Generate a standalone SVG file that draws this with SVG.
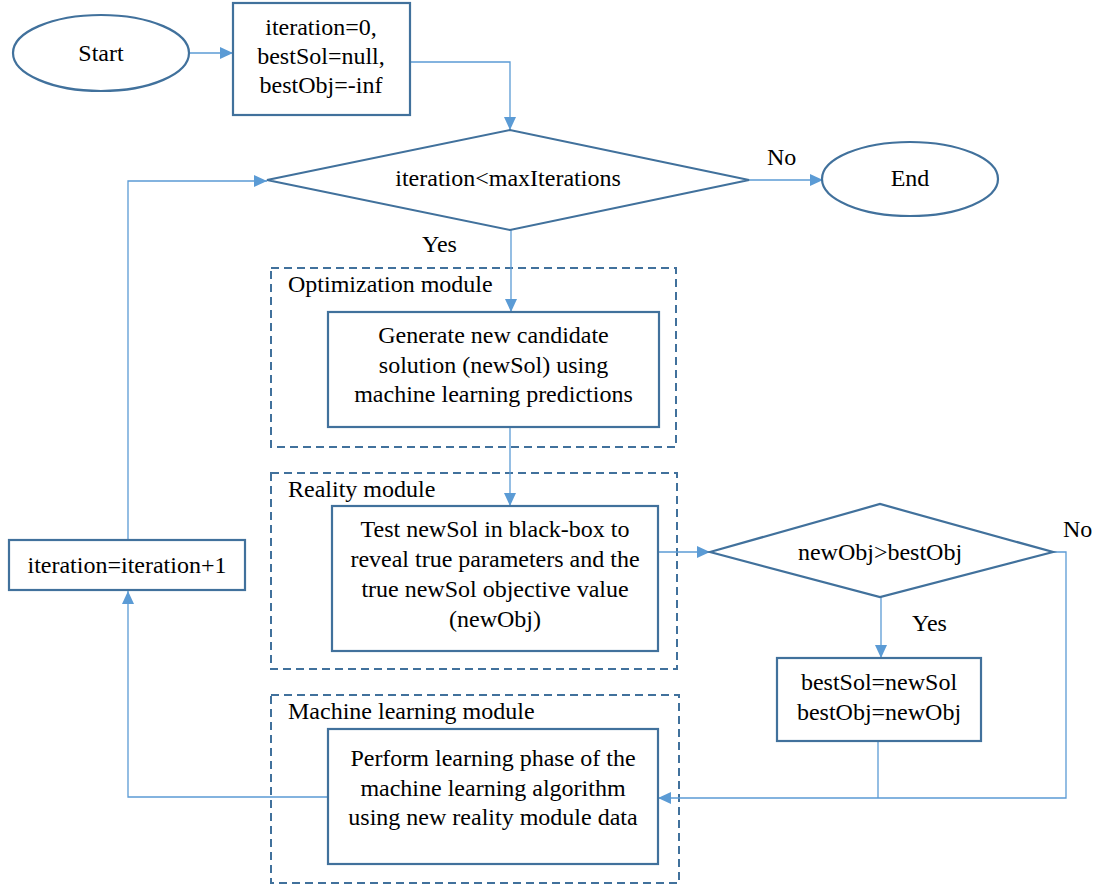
<svg xmlns="http://www.w3.org/2000/svg" width="1097" height="888" viewBox="0 0 1097 888">
<defs>
<style>
.node{fill:#fff;stroke:#41719C;stroke-width:2.2}
.mod{fill:none;stroke:#41719C;stroke-width:2;stroke-dasharray:8,5}
.conn{fill:none;stroke:#5B9BD5;stroke-width:1.3}
text{font-family:"Liberation Serif","Times New Roman",serif;font-size:24px;fill:#000}
.c{text-anchor:middle}
</style>
<marker id="arr" markerUnits="userSpaceOnUse" markerWidth="14" markerHeight="12" refX="13" refY="6" orient="auto">
<path d="M0,0 L13,6 L0,12 z" fill="#5B9BD5"/>
</marker>
</defs>
<rect width="1097" height="888" fill="#fff"/>

<g id="modules">
<g id="opt-module"><rect class="mod" x="271" y="268" width="405" height="179"/><text x="288" y="292">Optimization module</text></g>
<g id="reality-module"><rect class="mod" x="271" y="473" width="406" height="196"/><text x="288" y="497">Reality module</text></g>
<g id="ml-module"><rect class="mod" x="271" y="695" width="408" height="188"/><text x="288" y="719">Machine learning module</text></g>
</g>

<g id="connectors">
<path class="conn" d="M189,53 H233" marker-end="url(#arr)"/>
<path class="conn" d="M410,62 H510 V130" marker-end="url(#arr)"/>
<path class="conn" d="M749,180 H823" marker-end="url(#arr)"/>
<path class="conn" d="M511,230 V312" marker-end="url(#arr)"/>
<path class="conn" d="M510,427 V506" marker-end="url(#arr)"/>
<path class="conn" d="M658,552 H710" marker-end="url(#arr)"/>
<path class="conn" d="M881,597 V658" marker-end="url(#arr)"/>
<path class="conn" d="M1053,552 H1066 V798 H658" marker-end="url(#arr)"/>
<path class="conn" d="M878,741 V798"/>
<path class="conn" d="M328,797 H128 V591" marker-end="url(#arr)"/>
<path class="conn" d="M128,540 V181 H267" marker-end="url(#arr)"/>
</g>

<g id="start"><ellipse class="node" cx="101" cy="53" rx="88" ry="38"/><text class="c" x="101" y="61">Start</text></g>

<g id="init"><rect class="node" x="233" y="3" width="177" height="112"/>
<text class="c" x="321" y="35">iteration=0,</text>
<text class="c" x="321" y="64">bestSol=null,</text>
<text class="c" x="321" y="93">bestObj=-inf</text></g>

<g id="check-iter"><polygon class="node" points="267,180 510,130 749,180 510,230"/>
<text class="c" x="508" y="186">iteration&lt;maxIterations</text>
<text x="767" y="165">No</text>
<text x="422" y="252">Yes</text></g>

<g id="end"><ellipse class="node" cx="910" cy="179" rx="88" ry="37"/><text class="c" x="910" y="186">End</text></g>

<g id="generate"><rect class="node" x="328" y="312" width="331" height="115"/>
<text class="c" x="493.5" y="343">Generate new candidate</text>
<text class="c" x="493.5" y="373">solution (newSol) using</text>
<text class="c" x="493.5" y="402">machine learning predictions</text></g>

<g id="test"><rect class="node" x="332" y="506" width="326" height="145"/>
<text class="c" x="495" y="537">Test newSol in black-box to</text>
<text class="c" x="495" y="567">reveal true parameters and the</text>
<text class="c" x="495" y="597">true newSol objective value</text>
<text class="c" x="495" y="627">(newObj)</text></g>

<g id="check-obj"><polygon class="node" points="710,552 880,504 1053,552 880,597"/>
<text class="c" x="880" y="560">newObj&gt;bestObj</text>
<text x="1063" y="537">No</text>
<text x="912" y="631">Yes</text></g>

<g id="update"><rect class="node" x="777" y="658" width="204" height="83"/>
<text class="c" x="879" y="690">bestSol=newSol</text>
<text class="c" x="879" y="720">bestObj=newObj</text></g>

<g id="learn"><rect class="node" x="328" y="729" width="330" height="135"/>
<text class="c" x="493" y="766">Perform learning phase of the</text>
<text class="c" x="493" y="796">machine learning algorithm</text>
<text class="c" x="493" y="825">using new reality module data</text></g>

<g id="increment"><rect class="node" x="9" y="540" width="236" height="50"/>
<text class="c" x="127" y="573">iteration=iteration+1</text></g>
</svg>
